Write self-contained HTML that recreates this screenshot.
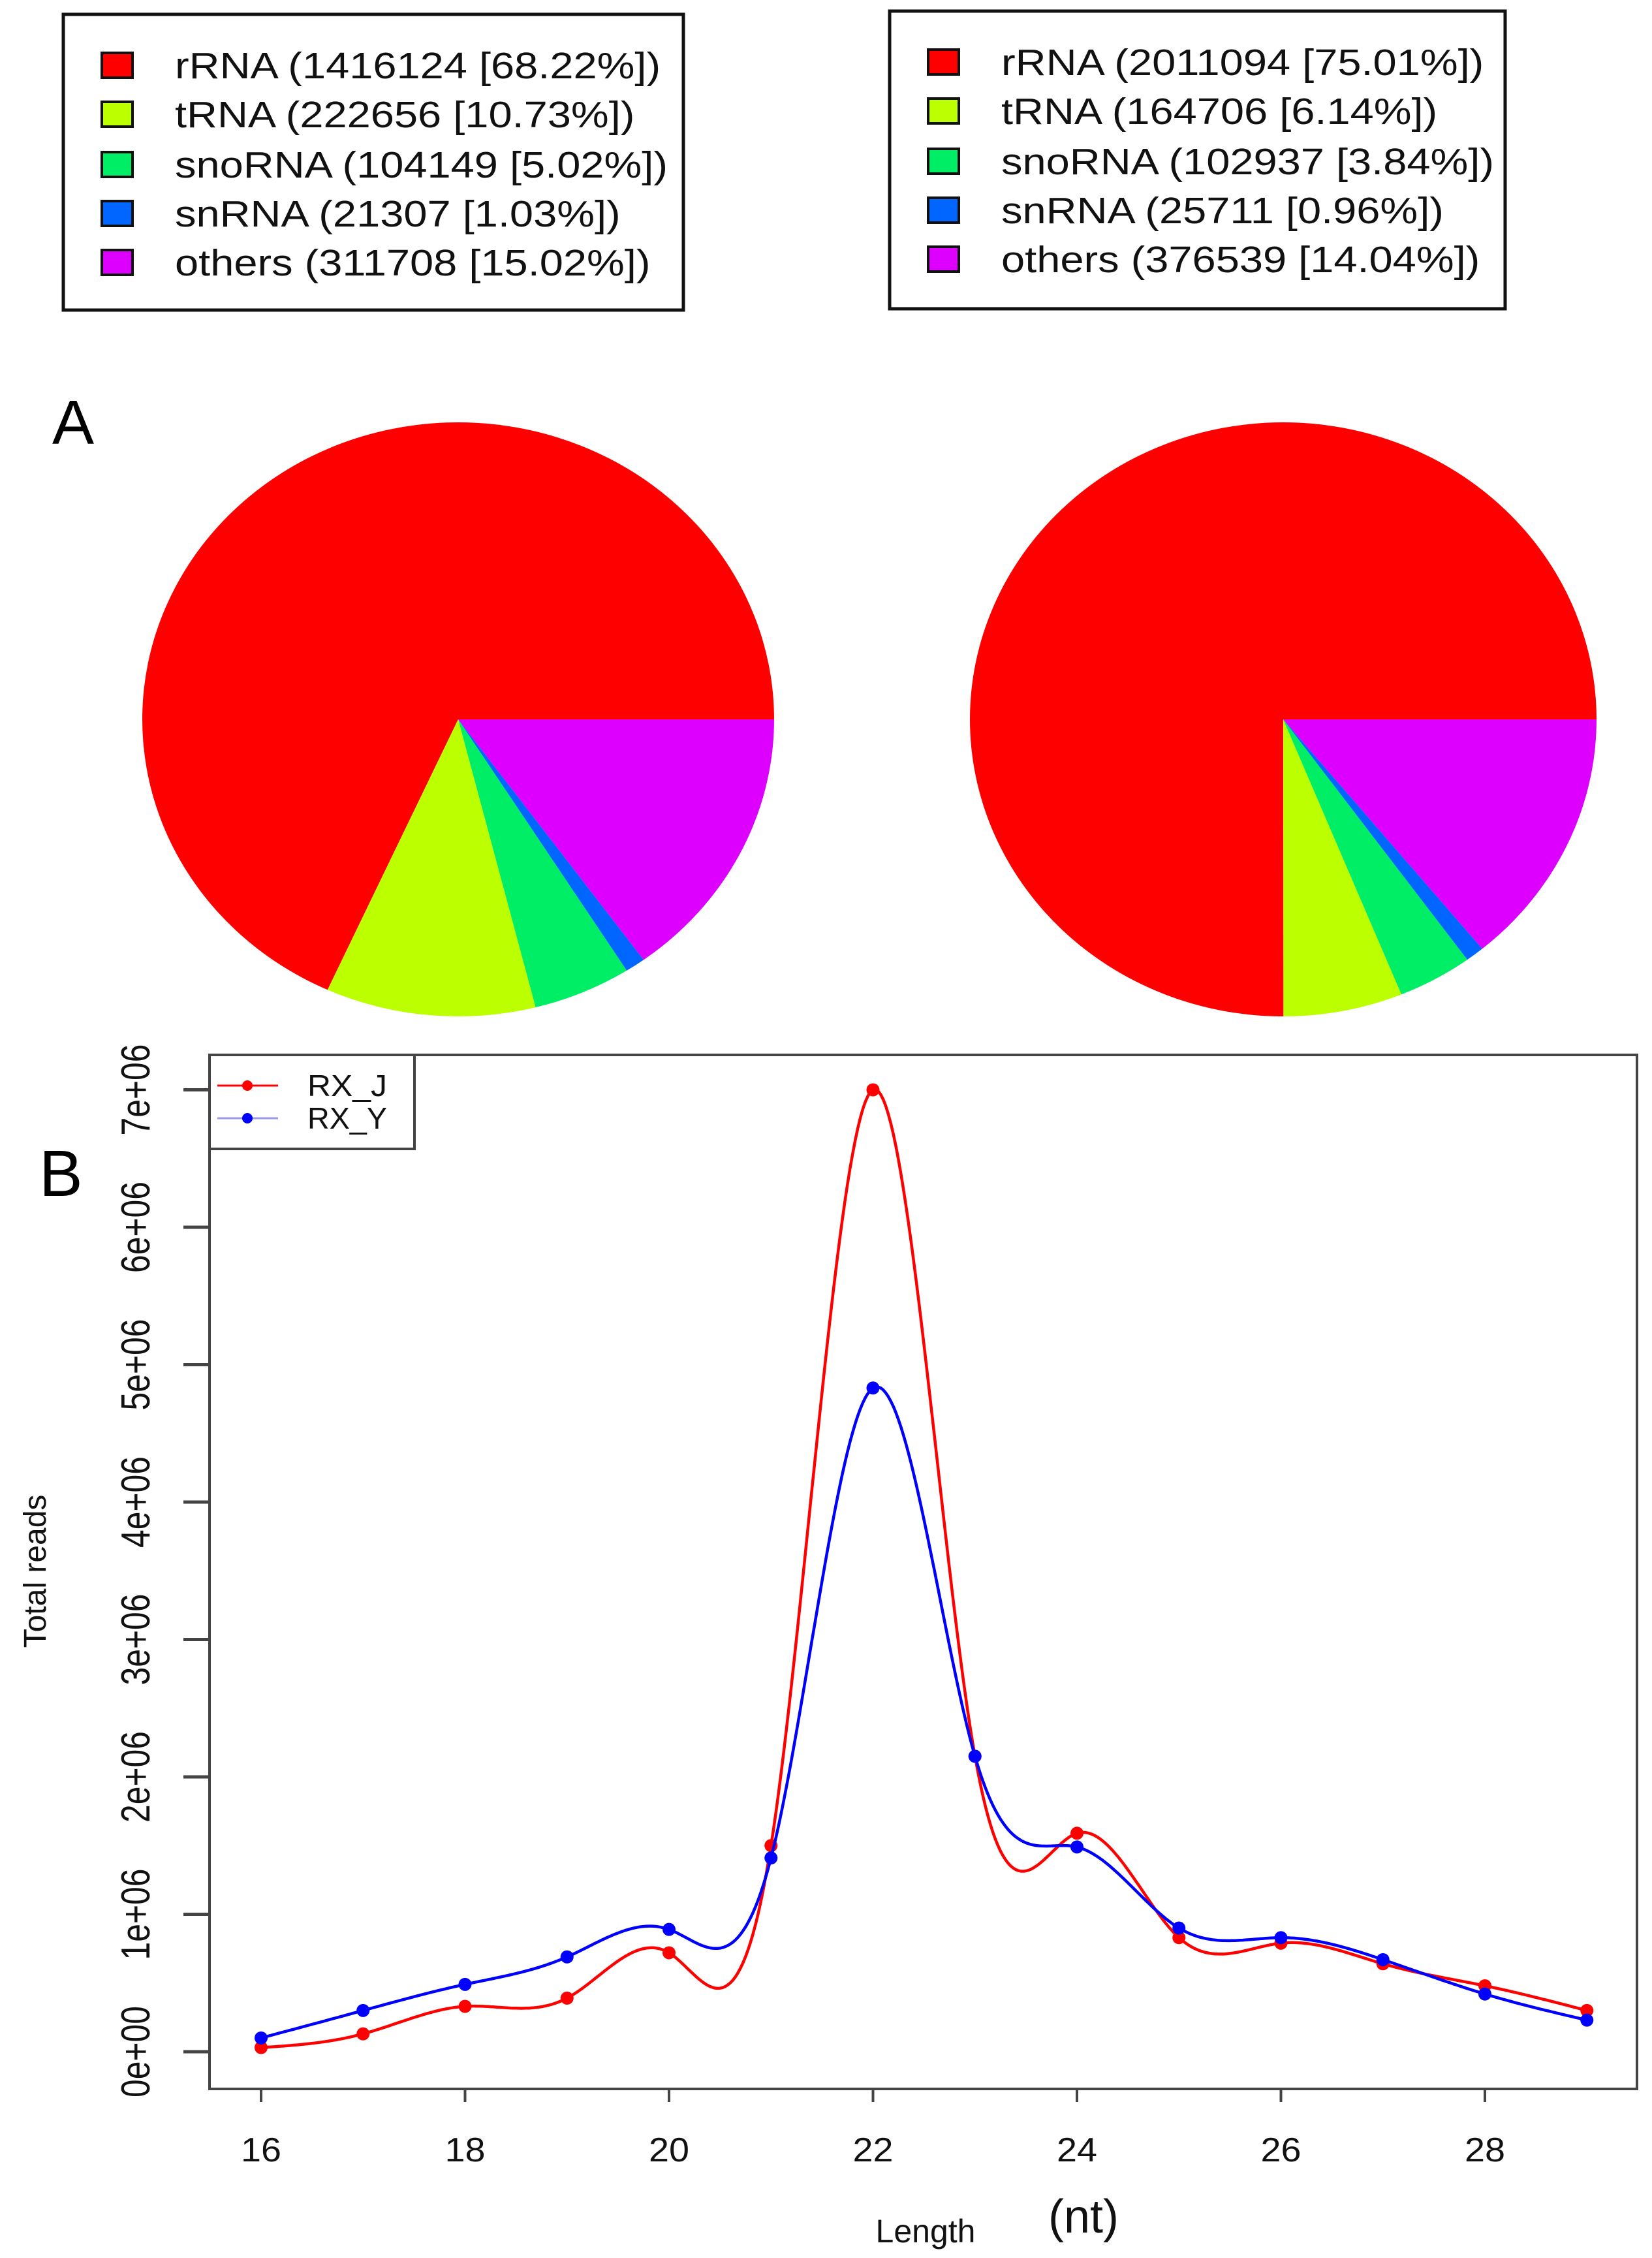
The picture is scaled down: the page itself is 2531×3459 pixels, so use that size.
<!DOCTYPE html>
<html><head><meta charset="utf-8"><style>
html,body{margin:0;padding:0;background:#fff;}
svg{display:block;}
text{font-family:"Liberation Sans",Arial,sans-serif;}
</style></head><body>
<svg id="fig" width="2531" height="3459" viewBox="0 0 2531 3459" xmlns="http://www.w3.org/2000/svg">
<rect width="2531" height="3459" fill="#fff"/>
<g id="legend1"></g>
<g id="legend2"></g>
<text x="80" y="680" font-size="96" fill="#000">A</text>
<g id="pie1"></g>
<g id="pie2"></g>
<text x="60" y="1832" font-size="100" fill="#000">B</text>
<g id="chart"></g>
</svg>
<script>
const pieLabels = ["rRNA","tRNA","snoRNA","snRNA","others"];
const pieColors = ["#FF0000","#BBFF00","#00EE66","#0066FF","#DD00FF"];
const pie1Counts = [1416124,222656,104149,21307,311708];
const pie1Pct = ["68.22%","10.73%","5.02%","1.03%","15.02%"];
const pie2Counts = [2011094,164706,102937,25711,376539];
const pie2Pct = ["75.01%","6.14%","3.84%","0.96%","14.04%"];

const lengths = [16,17,18,19,20,21,22,23,24,25,26,27,28,29];
const rxJ = [0.03,0.13,0.33,0.39,0.72,1.5,7.0,2.15,1.59,0.83,0.79,0.64,0.48,0.30];
const rxY = [0.10,0.30,0.49,0.69,0.89,1.41,4.83,2.15,1.49,0.90,0.83,0.67,0.42,0.23];
const yTicks = [0,1,2,3,4,5,6,7];
const yTickLabels = ["0e+00","1e+06","2e+06","3e+06","4e+06","5e+06","6e+06","7e+06"];
const xTicks = [16,18,20,22,24,26,28];

const NS="http://www.w3.org/2000/svg";
function mk(tag, parent, attrs){const e=document.createElementNS(NS,tag);for(const k in attrs)e.setAttribute(k,attrs[k]);parent.appendChild(e);return e;}
function stretch(t,f){const w=t.getComputedTextLength();t.setAttribute('textLength',(w*f).toFixed(1));t.setAttribute('lengthAdjust','spacingAndGlyphs');}

function legend(gid, x0, y0, x1, y1, counts, pct){
  const g=document.getElementById(gid);
  const box=mk('rect',g,{x:x0,y:y0,width:x1-x0,height:y1-y0,fill:'#fff',stroke:'#111','stroke-width':5});
  
  
  const rows=[y0+78,y0+153,y0+230,y0+305,y0+380];
  pieLabels.forEach((lab,i)=>{
    const sw=mk('rect',g,{x:x0+59,y:rows[i]-19,width:47,height:38,fill:pieColors[i],stroke:'#111','stroke-width':4});
    
    
    const t=mk('text',g,{x:x0+171,y:rows[i]+20,'font-size':57,fill:'#111'});
    t.textContent=lab+" ("+counts[i]+" ["+pct[i]+"])";
    
    
    stretch(t,1.14);
  });
}
legend('legend1',97,22,1047,475,pie1Counts,pie1Pct);
legend('legend2',1363,17,2306,473,pie2Counts,pie2Pct);

function pie(gid,cx,cy,rx,ry,counts){
  const g=document.getElementById(gid);
  const tot=counts.reduce((a,b)=>a+b,0);
  let a=0;
  counts.forEach((c,i)=>{
    const a1=a+c/tot*2*Math.PI;
    const x0=cx+rx*Math.cos(a),y0=cy-ry*Math.sin(a);
    const x1=cx+rx*Math.cos(a1),y1=cy-ry*Math.sin(a1);
    const large=(a1-a)>Math.PI?1:0;
    const p=mk('path',g,{d:`M${cx},${cy} L${x0},${y0} A${rx},${ry} 0 ${large} 0 ${x1},${y1} Z`,fill:pieColors[i]});
    
    
    a=a1;
  });
}
pie('pie1',702,1102,484,455,pie1Counts);
pie('pie2',1966,1102,480,455,pie2Counts);

// line chart
const L=321,R=2508,T=1616,B=3200;
const xs=v=>400+(v-16)*156.25;
const ys=v=>3143-v*210.5;
const c=document.getElementById('chart');
const frame=mk('rect',c,{x:L,y:T,width:R-L,height:B-T,fill:'none',stroke:'#444','stroke-width':4});


yTicks.forEach((v,i)=>{
  const y=ys(v);
  const tk=mk('line',c,{x1:L-40,x2:L,y1:y,y2:y,stroke:'#444','stroke-width':5});
  
  
  const t=mk('text',c,{x:0,y:0,'font-size':62,fill:'#111','text-anchor':'middle',transform:`translate(229,${y}) rotate(-90)`,textLength:140,lengthAdjust:'spacingAndGlyphs'});
  t.textContent=yTickLabels[i];
  
  
});
xTicks.forEach(v=>{
  const x=xs(v);
  const tk=mk('line',c,{x1:x,x2:x,y1:B,y2:B+20,stroke:'#444','stroke-width':4});
  
  
  const t=mk('text',c,{x:x,y:3311,'font-size':52,fill:'#111','text-anchor':'middle',textLength:62,lengthAdjust:'spacingAndGlyphs'});
  t.textContent=v;
  
  
});
const yl=mk('text',c,{x:0,y:0,'font-size':48,fill:'#111','text-anchor':'middle',transform:'translate(70,2407) rotate(-90)'});
yl.textContent="Total reads";


const xl=mk('text',c,{x:1418,y:3435,'font-size':50,fill:'#111','text-anchor':'middle'});
xl.textContent="Length";


const nt=mk('text',c,{x:1660,y:3420,'font-size':72,fill:'#111','text-anchor':'middle','font-family':'Liberation Serif, serif'});
nt.textContent="(nt)";



function spline(xv,yv){
  const n=xv.length,h=[],al=[],l=[1],mu=[0],z=[0],cc=new Array(n).fill(0),b=[],d=[];
  for(let i=0;i<n-1;i++)h.push(xv[i+1]-xv[i]);
  for(let i=1;i<n-1;i++)al[i]=3/h[i]*(yv[i+1]-yv[i])-3/h[i-1]*(yv[i]-yv[i-1]);
  for(let i=1;i<n-1;i++){l[i]=2*(xv[i+1]-xv[i-1])-h[i-1]*mu[i-1];mu[i]=h[i]/l[i];z[i]=(al[i]-h[i-1]*z[i-1])/l[i];}
  l[n-1]=1;z[n-1]=0;
  for(let j=n-2;j>=0;j--){cc[j]=z[j]-mu[j]*cc[j+1];b[j]=(yv[j+1]-yv[j])/h[j]-h[j]*(cc[j+1]+2*cc[j])/3;d[j]=(cc[j+1]-cc[j])/(3*h[j]);}
  const pts=[];
  for(let j=0;j<n-1;j++)for(let k=0;k<40;k++){const t=k/40*h[j];pts.push([xv[j]+t,yv[j]+b[j]*t+cc[j]*t*t+d[j]*t*t*t]);}
  pts.push([xv[n-1],yv[n-1]]);
  return pts;
}
function series(vals,color,name){
  const pts=spline(lengths,vals);
  const p=mk('path',c,{d:'M'+pts.map(q=>xs(q[0]).toFixed(1)+','+ys(q[1]).toFixed(1)).join(' L'),fill:'none',stroke:color,'stroke-width':4.5});
  
  
  lengths.forEach((v,i)=>{
    const pt=mk('circle',c,{cx:xs(v),cy:ys(vals[i]),r:10,fill:color});
    
    
  });
}
series(rxJ,'#FF0000','rx-j');
series(rxY,'#0000FF','rx-y');

// legend
const lg=mk('rect',c,{x:L,y:T,width:314,height:144,fill:'#fff',stroke:'#444','stroke-width':4});


[['RX_J','#FF0000','#FF0000',1663],['RX_Y','#0000FF','#9999ee',1713]].forEach(e=>{
  const y=e[3];
  const ln=mk('line',c,{x1:L+12,x2:L+105,y1:y,y2:y,stroke:e[2],'stroke-width':3});
  
  
  const dot=mk('circle',c,{cx:L+58,cy:y,r:8,fill:e[1]});
  
  
  const t=mk('text',c,{x:L+150,y:y+16,'font-size':46,fill:'#111',textLength:122,lengthAdjust:'spacingAndGlyphs'});
  t.textContent=e[0];
  
  
});
</script>
</body></html>
